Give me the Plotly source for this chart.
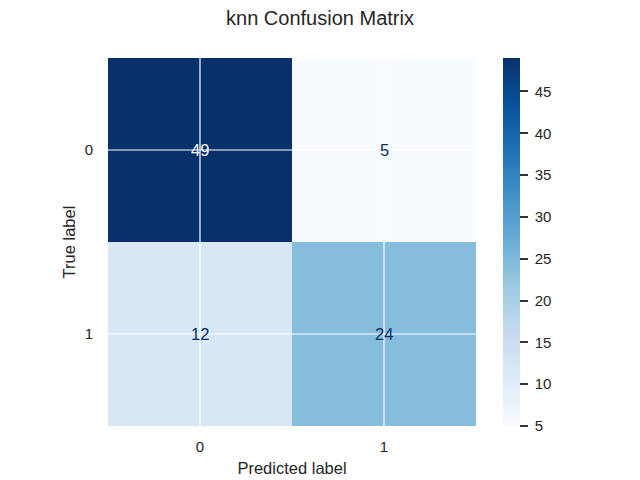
import plotly.graph_objects as go

labels = [0, 1]
tick_text = ["0", "1"]
matrix = [[49, 5],
          [12, 24]]
cbar_ticks = [5, 10, 15, 20, 25, 30, 35, 40, 45]
title = "knn Confusion Matrix"
x_title = "Predicted label"
y_title = "True label"

FONT = "Liberation Sans, Arial, DejaVu Sans, sans-serif"
LIGHT = "#f7fbff"
DARK = "#08306b"
TXT = "#262626"

zmin = min(min(r) for r in matrix)
zmax = max(max(r) for r in matrix)
thresh = (zmin + zmax) / 2

fig = go.Figure()
fig.add_trace(go.Heatmap(
    z=matrix, x=labels, y=labels,
    colorscale="Blues", zmin=zmin, zmax=zmax,
    hoverinfo="skip",
    colorbar=dict(
        thickness=16.5, len=1, lenmode="fraction", y=0, yanchor="bottom",
        x=(502.7 - 108) / 368, xanchor="left", xpad=0, ypad=0,
        outlinewidth=0,
        tickmode="array", tickvals=cbar_ticks,
        ticktext=["\u00a0" + str(t) for t in cbar_ticks],
        ticks="outside", ticklen=8, tickwidth=2, tickcolor="#333333",
        tickfont=dict(family=FONT, size=15, color=TXT),
    ),
))

# white grid lines on top of the cells (seaborn style)
for v in labels:
    fig.add_shape(type="line", xref="x", yref="paper", x0=v, x1=v, y0=0, y1=1,
                  line=dict(color="white", width=1.2), layer="above")
    fig.add_shape(type="line", xref="paper", yref="y", x0=0, x1=1, y0=v, y1=v,
                  line=dict(color="white", width=1.2), layer="above")

for i, row in enumerate(matrix):
    for j, val in enumerate(row):
        fig.add_annotation(x=labels[j], y=labels[i], text=str(val), showarrow=False,
                           font=dict(family=FONT, size=16.5,
                                     color=LIGHT if val > thresh else DARK))

fig.update_layout(
    width=640, height=480,
    margin=dict(l=108, r=164, t=58, b=54, autoexpand=False),
    paper_bgcolor="white", plot_bgcolor="white",
    title=dict(text=title, x=0.5, xref="container", xanchor="center", y=1 - 18 / 480,
               yanchor="middle", font=dict(family=FONT, size=20, color=TXT)),
    font=dict(family=FONT, color=TXT),
    showlegend=False,
)
fig.update_xaxes(
    tickmode="array", tickvals=labels, ticktext=tick_text, automargin=False,
    range=[-0.5, 1.5], showgrid=False, zeroline=False, ticks="",
    tickfont=dict(size=15, color=TXT), ticklabelstandoff=10,
    title=dict(text=x_title, font=dict(size=16.5, color=TXT), standoff=8),
    showline=False,
)
fig.update_yaxes(
    tickmode="array", tickvals=labels, ticktext=tick_text, automargin=False,
    range=[1.5, -0.5], showgrid=False, zeroline=False, ticks="",
    tickfont=dict(size=15, color=TXT), ticklabelstandoff=14,
    title=dict(text=y_title, font=dict(size=16.5, color=TXT), standoff=4),
    showline=False,
)

fig.write_html("out.html", config={"displayModeBar": False},
               post_script="document.body.style.margin='0';")
